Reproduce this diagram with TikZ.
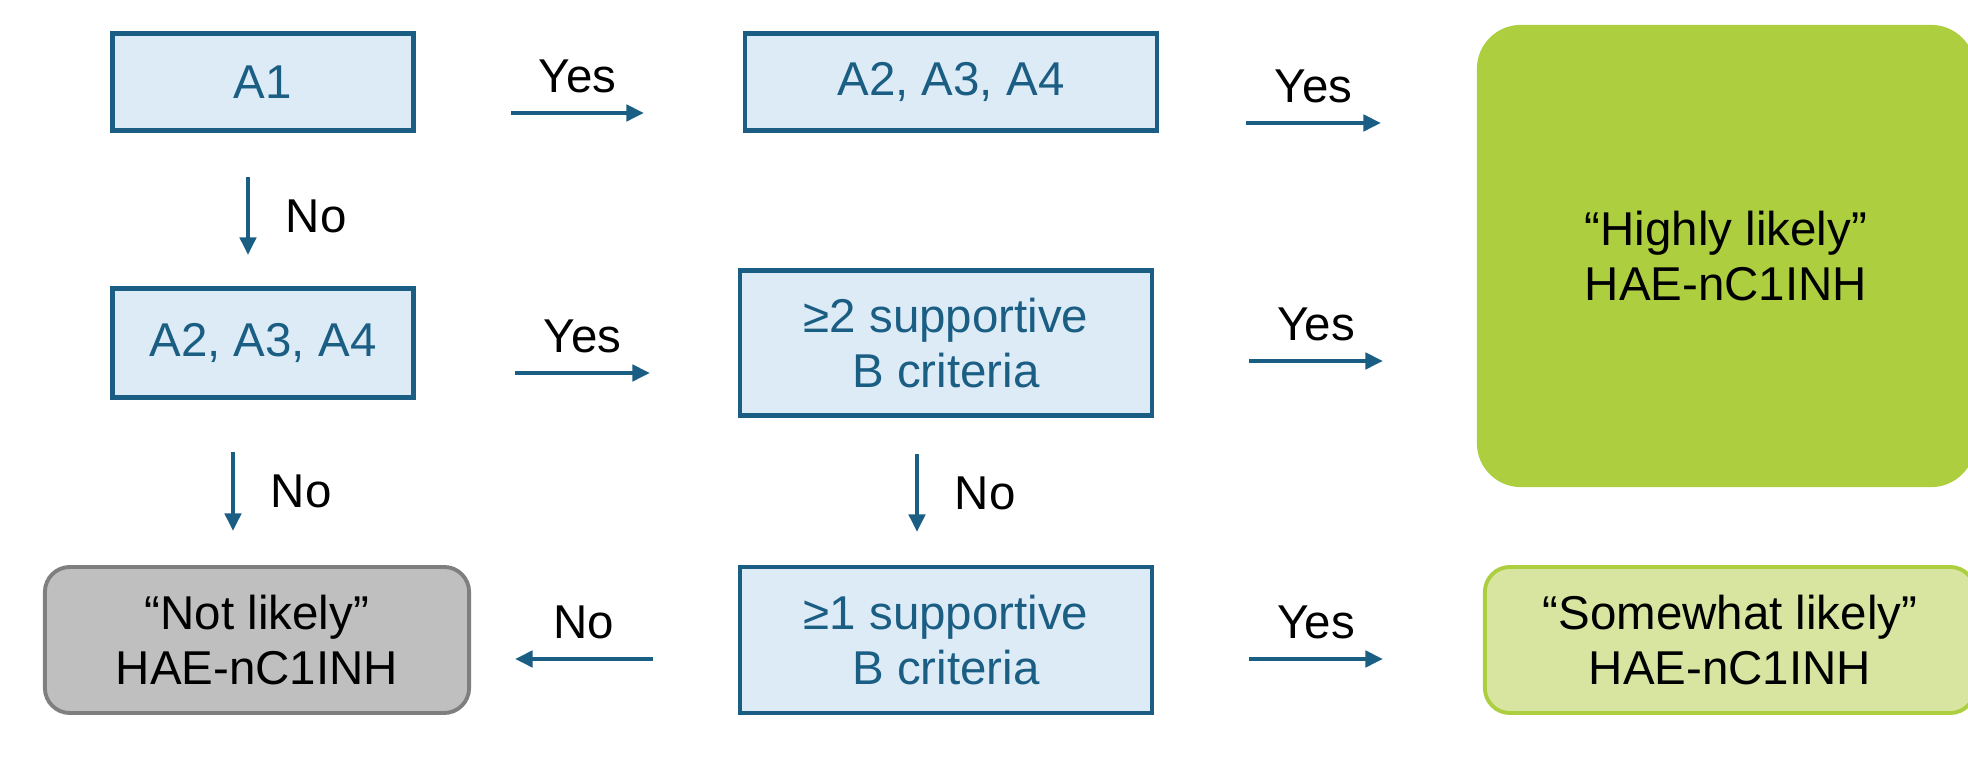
\documentclass[tikz,border=0pt]{standalone}
\usepackage{fontspec}
\setmainfont{Liberation Sans}
\usetikzlibrary{arrows.meta}

\definecolor{critblue}{RGB}{27,94,132}
\definecolor{critfill}{RGB}{221,235,247}
\definecolor{highgreen}{RGB}{173,206,63}
\definecolor{somegreen}{RGB}{215,229,160}
\definecolor{notfill}{RGB}{191,191,191}
\definecolor{notdraw}{RGB}{127,127,127}

\begin{document}
\begin{tikzpicture}[x=0.01cm,y=-0.01cm,font=\fontsize{13.5}{15.5}\selectfont]
        \useasboundingbox (0,0) rectangle (1968,761);
        \begin{scope}[every node/.style={draw=critblue,fill=critfill,line width=1.2pt,text=critblue,align=center,inner sep=0pt}]
            \node[minimum width=3.01cm, minimum height=0.97cm] (a1) at (263,82) {A1};
            \node[minimum width=4.11cm, minimum height=0.97cm] (atop) at (951,82) {A2, A3, A4};

            \node[minimum width=3.01cm, minimum height=1.09cm] (amid) at (263,343) {A2, A3, A4};
            \node[minimum width=4.12cm, minimum height=1.45cm] (btwo) at (946,343) {≥2 supportive\\B criteria};

            \node[minimum width=4.12cm, minimum height=1.46cm] (bone) at (946,640) {≥1 supportive\\B criteria};
        \end{scope}
        \begin{scope}[every node/.style={align=center,inner sep=0pt,text=black}]
            \node[fill=highgreen, rounded corners=0.44cm, minimum width=4.98cm, minimum height=4.62cm] (high) at (1726,256) {“Highly likely”\\HAE-nC1INH};
            \node[draw=highgreen, fill=somegreen, line width=1.1pt, rounded corners=0.25cm, minimum width=4.9cm, minimum height=1.46cm] (some) at (1730,640) {“Somewhat likely”\\HAE-nC1INH};
            \node[draw=notdraw, fill=notfill, line width=1.1pt, rounded corners=0.25cm, minimum width=4.24cm, minimum height=1.46cm] (not) at (257,640) {“Not likely”\\HAE-nC1INH};
        \end{scope}

        % arrow ends
        \coordinate (y1s) at (511,113);  \coordinate (y1e) at (644,113);
        \coordinate (y2s) at (1246,123); \coordinate (y2e) at (1381,123);
        \coordinate (y3s) at (515,373);  \coordinate (y3e) at (650,373);
        \coordinate (y4s) at (1249,361); \coordinate (y4e) at (1383,361);
        \coordinate (y5s) at (1249,659); \coordinate (y5e) at (1383,659);
        \coordinate (n1s) at (248,177);  \coordinate (n1e) at (248,255);
        \coordinate (n2s) at (233,452);  \coordinate (n2e) at (233,531);
        \coordinate (n3s) at (917,454);  \coordinate (n3e) at (917,532);
        \coordinate (n4s) at (653,659);  \coordinate (n4e) at (515,659);

        \begin{scope}[every edge/.style={draw=critblue,line width=1.1pt,-{Triangle[length=5pt,width=4.6pt]}},
                      every node/.style={inner sep=0pt,text=black}]
            \path (y1s) edge node[above=0.18cm] (l1) {Yes} (y1e);
            \path (y2s) edge node[above=0.18cm] (l2) {Yes} (y2e);
            \path (y3s) edge node[above=0.18cm] (l3) {Yes} (y3e);
            \path (y4s) edge node[above=0.18cm] (l4) {Yes} (y4e);
            \path (y5s) edge node[above=0.18cm] (l5) {Yes} (y5e);

            \path (n1s) edge node[right=0.36cm] (l6) {No} (n1e);
            \path (n2s) edge node[right=0.36cm] (l7) {No} (n2e);
            \path (n3s) edge node[right=0.36cm] (l8) {No} (n3e);
            \path (n4s) edge node[above=0.18cm] (l9) {No} (n4e);
        \end{scope}
    \end{tikzpicture}
\end{document}
